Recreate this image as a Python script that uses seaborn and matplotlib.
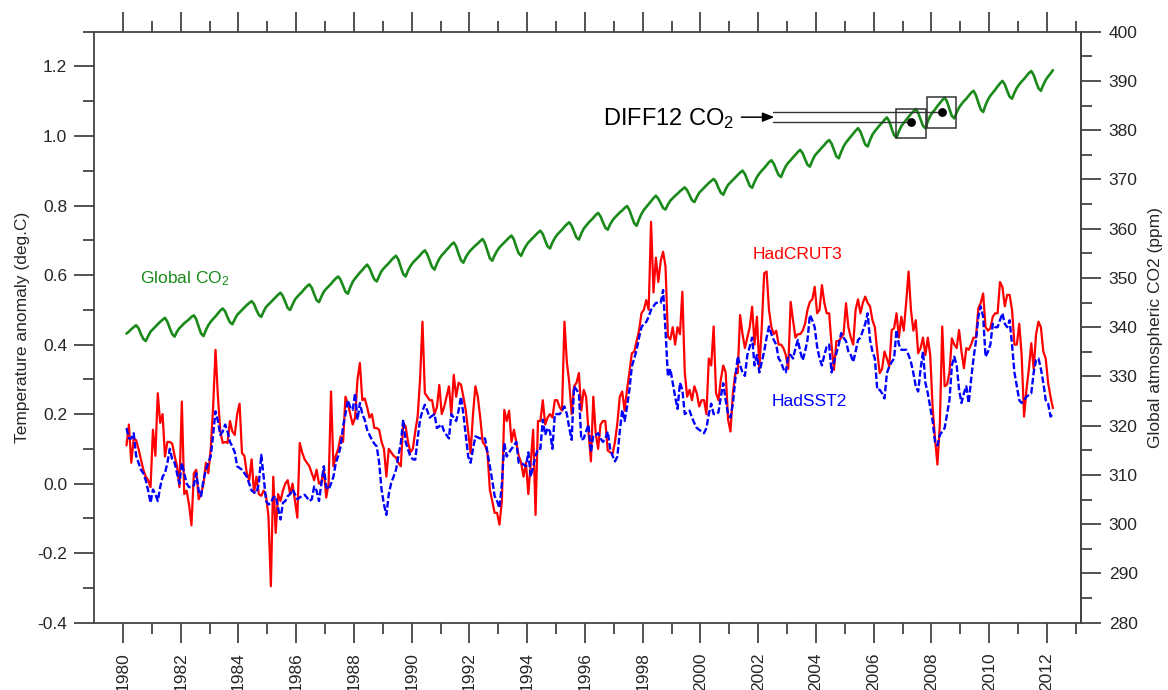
import numpy as np
import pandas as pd
import matplotlib
matplotlib.use("Agg")
import matplotlib.pyplot as plt
import seaborn as sns
from matplotlib.patches import Rectangle
from matplotlib.ticker import FixedLocator

# ---------------- data (monthly, Jan 1980 .. Feb 2012) ----------------
first_year = 1980

hadcrut3 = [
    0.11, 0.17, 0.06, 0.13, 0.125, 0.10, 0.07, 0.04, 0.02, 0.01, -0.01, 0.155,      # 1980
    0.08, 0.26, 0.175, 0.20, 0.078, 0.12, 0.12, 0.115, 0.08, 0.05, -0.01, 0.236,    # 1981
    -0.03, -0.02, -0.06, -0.12, 0.03, 0.04, -0.045, -0.03, 0.00, 0.06, 0.03, 0.10,  # 1982
    0.22, 0.385, 0.25, 0.15, 0.117, 0.12, 0.117, 0.18, 0.15, 0.14, 0.20, 0.23,      # 1983
    0.088, 0.08, 0.03, 0.01, 0.07, -0.027, 0.02, -0.03, -0.035, -0.02, -0.035, -0.094,  # 1984
    -0.295, 0.02, -0.142, -0.03, -0.05, -0.02, 0.00, 0.01, -0.03, 0.00, -0.05, -0.098,  # 1985
    0.117, 0.09, 0.07, 0.06, 0.05, 0.03, 0.01, 0.04, 0.00, 0.005, 0.04, -0.04,      # 1986
    0.00, 0.265, 0.05, 0.08, 0.10, 0.136, 0.12, 0.25, 0.23, 0.20, 0.17, 0.19,       # 1987
    0.30, 0.347, 0.24, 0.245, 0.22, 0.19, 0.20, 0.16, 0.16, 0.155, 0.12, 0.10,      # 1988
    0.02, 0.10, 0.09, 0.08, 0.075, 0.06, 0.05, 0.174, 0.165, 0.12, 0.09, 0.10,      # 1989
    0.15, 0.193, 0.30, 0.466, 0.26, 0.25, 0.24, 0.24, 0.20, 0.22, 0.284, 0.20,      # 1990
    0.22, 0.25, 0.28, 0.20, 0.313, 0.25, 0.29, 0.285, 0.25, 0.21, 0.15, 0.088,      # 1991
    0.20, 0.28, 0.25, 0.19, 0.12, 0.11, 0.09, -0.017, -0.05, -0.084, -0.084, -0.118,  # 1992
    -0.05, 0.212, 0.18, 0.21, 0.12, 0.155, 0.12, 0.08, 0.06, 0.02, 0.06, -0.03,     # 1993
    0.06, 0.155, -0.09, 0.18, 0.18, 0.24, 0.17, 0.19, 0.20, 0.19, 0.24, 0.24,       # 1994
    0.22, 0.21, 0.466, 0.35, 0.29, 0.20, 0.28, 0.29, 0.318, 0.21, 0.27, 0.25,       # 1995
    0.15, 0.064, 0.25, 0.145, 0.10, 0.17, 0.18, 0.18, 0.095, 0.09, 0.085, 0.12,     # 1996
    0.175, 0.25, 0.265, 0.21, 0.27, 0.32, 0.375, 0.38, 0.41, 0.44, 0.49, 0.50,      # 1997
    0.528, 0.50, 0.753, 0.55, 0.65, 0.58, 0.64, 0.667, 0.625, 0.423, 0.415, 0.45,   # 1998
    0.40, 0.45, 0.43, 0.552, 0.32, 0.25, 0.27, 0.24, 0.28, 0.26, 0.222, 0.24,       # 1999
    0.24, 0.20, 0.36, 0.34, 0.452, 0.26, 0.24, 0.30, 0.34, 0.32, 0.184, 0.15,       # 2000
    0.26, 0.318, 0.318, 0.485, 0.43, 0.39, 0.42, 0.45, 0.509, 0.40, 0.48, 0.33,     # 2001
    0.45, 0.605, 0.61, 0.50, 0.45, 0.43, 0.44, 0.40, 0.40, 0.39, 0.37, 0.33,        # 2002
    0.523, 0.47, 0.42, 0.43, 0.43, 0.44, 0.46, 0.50, 0.523, 0.53, 0.566, 0.49,      # 2003
    0.50, 0.571, 0.52, 0.49, 0.49, 0.40, 0.327, 0.41, 0.41, 0.42, 0.43, 0.519,      # 2004
    0.45, 0.42, 0.40, 0.50, 0.53, 0.49, 0.52, 0.538, 0.52, 0.51, 0.47, 0.45,        # 2005
    0.38, 0.318, 0.33, 0.38, 0.36, 0.337, 0.442, 0.447, 0.49, 0.42, 0.48, 0.44,     # 2006
    0.52, 0.61, 0.50, 0.44, 0.47, 0.375, 0.39, 0.42, 0.37, 0.42, 0.37, 0.22,        # 2007
    0.13, 0.055, 0.17, 0.452, 0.28, 0.285, 0.32, 0.418, 0.40, 0.39, 0.442, 0.38,    # 2008
    0.332, 0.39, 0.385, 0.40, 0.42, 0.42, 0.504, 0.52, 0.547, 0.45, 0.44, 0.447,    # 2009
    0.48, 0.49, 0.49, 0.58, 0.566, 0.51, 0.543, 0.543, 0.50, 0.40, 0.40, 0.46,      # 2010
    0.37, 0.193, 0.27, 0.33, 0.404, 0.33, 0.43, 0.466, 0.45, 0.38, 0.36, 0.29,      # 2011
    0.25, 0.217,                                                                    # 2012
]

hadsst2 = [
    0.16, 0.13, 0.13, 0.145, 0.08, 0.06, 0.04, 0.03, 0.01, -0.02, -0.055, -0.017,   # 1980
    -0.03, -0.05, -0.01, 0.02, 0.03, 0.06, 0.10, 0.07, 0.06, 0.03, 0.00, 0.06,      # 1981
    0.03, 0.00, -0.01, -0.01, -0.005, 0.03, -0.02, -0.036, 0.01, 0.04, 0.06, 0.078,  # 1982
    0.14, 0.208, 0.18, 0.14, 0.15, 0.17, 0.15, 0.12, 0.107, 0.09, 0.05, 0.045,      # 1983
    0.04, 0.03, 0.02, 0.00, -0.02, -0.025, -0.027, 0.00, 0.083, 0.02, -0.05, -0.06,  # 1984
    -0.055, -0.04, -0.036, -0.07, -0.103, -0.055, -0.05, -0.036, -0.03, -0.017, -0.03, -0.045,  # 1985
    -0.04, -0.035, -0.032, -0.04, -0.05, -0.045, -0.008, -0.02, -0.05, 0.00, 0.05, -0.01,  # 1986
    -0.017, 0.00, 0.02, 0.06, 0.08, 0.107, 0.165, 0.20, 0.24, 0.22, 0.212, 0.26,    # 1987
    0.184, 0.232, 0.20, 0.184, 0.155, 0.14, 0.126, 0.115, 0.107, 0.06, -0.017, -0.06,  # 1988
    -0.09, -0.03, 0.002, 0.02, 0.04, 0.08, 0.117, 0.184, 0.12, 0.098, 0.078, 0.07,  # 1989
    0.069, 0.13, 0.184, 0.21, 0.227, 0.21, 0.19, 0.195, 0.20, 0.16, 0.165, 0.17,    # 1990
    0.15, 0.14, 0.13, 0.20, 0.19, 0.18, 0.21, 0.25, 0.20, 0.14, 0.078, 0.06,        # 1991
    0.10, 0.136, 0.133, 0.13, 0.13, 0.13, 0.09, 0.05, 0.01, -0.036, -0.05, -0.07,   # 1992
    0.00, 0.117, 0.078, 0.09, 0.10, 0.11, 0.12, 0.06, 0.06, 0.055, 0.05, 0.09,      # 1993
    0.02, 0.05, 0.08, 0.10, 0.10, 0.184, 0.14, 0.16, 0.15, 0.10, 0.20, 0.20,        # 1994
    0.20, 0.21, 0.222, 0.20, 0.16, 0.126, 0.28, 0.27, 0.26, 0.126, 0.13, 0.15,      # 1995
    0.17, 0.09, 0.14, 0.14, 0.145, 0.13, 0.12, 0.13, 0.15, 0.10, 0.08, 0.064,       # 1996
    0.078, 0.15, 0.212, 0.18, 0.22, 0.27, 0.337, 0.36, 0.385, 0.42, 0.45, 0.46,     # 1997
    0.465, 0.48, 0.50, 0.51, 0.52, 0.52, 0.52, 0.557, 0.44, 0.308, 0.33, 0.29,      # 1998
    0.25, 0.215, 0.29, 0.27, 0.20, 0.205, 0.21, 0.19, 0.174, 0.16, 0.155, 0.15,     # 1999
    0.145, 0.16, 0.20, 0.23, 0.20, 0.20, 0.205, 0.25, 0.289, 0.24, 0.20, 0.19,      # 2000
    0.23, 0.30, 0.366, 0.34, 0.32, 0.31, 0.37, 0.394, 0.42, 0.34, 0.37, 0.32,       # 2001
    0.35, 0.38, 0.42, 0.452, 0.43, 0.413, 0.40, 0.36, 0.35, 0.33, 0.32, 0.37,       # 2002
    0.37, 0.36, 0.39, 0.413, 0.38, 0.355, 0.38, 0.413, 0.485, 0.47, 0.45, 0.394,    # 2003
    0.36, 0.34, 0.37, 0.394, 0.40, 0.32, 0.35, 0.375, 0.40, 0.433, 0.42, 0.41,      # 2004
    0.38, 0.37, 0.35, 0.38, 0.413, 0.42, 0.44, 0.46, 0.49, 0.413, 0.38, 0.36,       # 2005
    0.27, 0.27, 0.26, 0.245, 0.318, 0.337, 0.35, 0.36, 0.442, 0.40, 0.385, 0.385,   # 2006
    0.385, 0.37, 0.35, 0.318, 0.28, 0.265, 0.33, 0.38, 0.29, 0.26, 0.22, 0.18,      # 2007
    0.12, 0.11, 0.14, 0.15, 0.16, 0.20, 0.24, 0.34, 0.365, 0.34, 0.27, 0.232,       # 2008
    0.26, 0.28, 0.232, 0.30, 0.36, 0.41, 0.48, 0.51, 0.48, 0.365, 0.38, 0.40,       # 2009
    0.46, 0.45, 0.45, 0.47, 0.49, 0.46, 0.45, 0.47, 0.40, 0.32, 0.28, 0.24,         # 2010
    0.232, 0.24, 0.25, 0.255, 0.26, 0.32, 0.356, 0.36, 0.33, 0.29, 0.24, 0.23,      # 2011
    0.193, 0.20,                                                                    # 2012
]

co2_ppm = [
    338.7, 339.1, 339.6, 340.0, 340.4, 339.8, 338.6, 337.6, 337.2, 338.2, 339.1, 339.6,  # 1980
    340.1, 340.6, 341.1, 341.5, 341.9, 341.1, 339.8, 338.6, 338.1, 339.1, 339.8, 340.3,  # 1981
    340.8, 341.2, 341.6, 342.1, 342.4, 341.6, 340.1, 338.7, 338.2, 339.4, 340.4, 341.1,  # 1982
    341.7, 342.2, 342.8, 343.4, 343.8, 343.2, 342.0, 341.0, 340.6, 341.6, 342.5, 343.0,  # 1983
    343.5, 344.0, 344.5, 344.9, 345.3, 344.7, 343.5, 342.5, 342.1, 343.2, 344.1, 344.6,  # 1984
    345.1, 345.6, 346.1, 346.6, 347.0, 346.3, 345.1, 343.9, 343.5, 344.6, 345.6, 346.2,  # 1985
    346.7, 347.2, 347.8, 348.3, 348.7, 348.0, 346.7, 345.5, 345.1, 346.2, 347.2, 347.8,  # 1986
    348.3, 348.8, 349.4, 349.9, 350.3, 349.6, 348.4, 347.2, 346.8, 348.1, 349.2, 349.9,  # 1987
    350.5, 351.1, 351.6, 352.2, 352.7, 352.0, 350.8, 349.7, 349.3, 350.4, 351.4, 352.0,  # 1988
    352.5, 353.0, 353.6, 354.1, 354.5, 353.7, 352.2, 350.8, 350.3, 351.5, 352.4, 353.1,  # 1989
    353.6, 354.1, 354.6, 355.2, 355.6, 354.8, 353.5, 352.2, 351.7, 352.9, 353.9, 354.6,  # 1990
    355.1, 355.7, 356.2, 356.8, 357.2, 356.4, 354.9, 353.6, 353.1, 354.2, 355.0, 355.6,  # 1991
    356.1, 356.6, 357.0, 357.5, 357.9, 357.0, 355.5, 354.0, 353.5, 354.6, 355.5, 356.2,  # 1992
    356.7, 357.2, 357.7, 358.2, 358.6, 357.8, 356.3, 355.0, 354.5, 355.6, 356.5, 357.2,  # 1993
    357.7, 358.2, 358.7, 359.2, 359.6, 358.9, 357.6, 356.4, 356.0, 357.2, 358.1, 358.8,  # 1994
    359.3, 359.8, 360.4, 360.9, 361.3, 360.6, 359.4, 358.2, 357.8, 359.0, 360.0, 360.6,  # 1995
    361.2, 361.7, 362.2, 362.8, 363.2, 362.5, 361.3, 360.2, 359.8, 360.9, 361.7, 362.3,  # 1996
    362.8, 363.3, 363.7, 364.2, 364.6, 363.8, 362.4, 361.1, 360.6, 361.9, 363.0, 363.8,  # 1997
    364.4, 365.0, 365.6, 366.2, 366.7, 366.1, 365.2, 364.2, 363.9, 364.9, 365.7, 366.2,  # 1998
    366.7, 367.1, 367.6, 368.0, 368.4, 367.8, 366.8, 365.8, 365.4, 366.4, 367.3, 367.8,  # 1999
    368.3, 368.8, 369.3, 369.7, 370.1, 369.5, 368.3, 367.3, 366.9, 368.0, 368.9, 369.4,  # 2000
    369.9, 370.4, 370.9, 371.4, 371.8, 371.1, 369.9, 368.7, 368.3, 369.5, 370.5, 371.2,  # 2001
    371.8, 372.3, 372.9, 373.5, 373.9, 373.2, 372.0, 370.9, 370.5, 371.7, 372.7, 373.4,  # 2002
    373.9, 374.5, 375.0, 375.6, 376.0, 375.3, 374.1, 373.0, 372.6, 373.8, 374.8, 375.4,  # 2003
    375.9, 376.5, 377.0, 377.6, 378.0, 377.3, 376.0, 374.7, 374.3, 375.6, 376.7, 377.5,  # 2004
    378.1, 378.7, 379.3, 379.9, 380.4, 379.7, 378.4, 377.1, 376.7, 378.0, 379.1, 379.8,  # 2005
    380.4, 381.0, 381.5, 382.1, 382.6, 381.8, 380.3, 379.0, 378.5, 379.8, 380.8, 381.5,  # 2006
    382.1, 382.7, 383.3, 383.8, 384.3, 383.5, 382.2, 380.9, 380.4, 381.8, 382.9, 383.6,  # 2007
    384.2, 384.9, 385.5, 386.1, 386.6, 385.8, 384.3, 382.9, 382.4, 383.6, 384.6, 385.3,  # 2008
    385.9, 386.4, 387.0, 387.6, 388.0, 387.1, 385.6, 384.2, 383.7, 385.1, 386.2, 387.0,  # 2009
    387.6, 388.2, 388.9, 389.5, 390.0, 389.3, 388.0, 386.8, 386.4, 387.6, 388.6, 389.3,  # 2010
    389.9, 390.4, 391.0, 391.6, 392.0, 391.2, 389.8, 388.5, 388.0, 389.2, 390.2, 390.9,  # 2011
    391.5, 392.2,                                                                        # 2012
]

# axis ticks
year_ticks = list(range(1980, 2013, 2))
year_minor = list(range(1981, 2014, 2))
temp_ticks = [-0.4, -0.2, 0.0, 0.2, 0.4, 0.6, 0.8, 1.0, 1.2]
temp_minor = [-0.3, -0.1, 0.1, 0.3, 0.5, 0.7, 0.9, 1.1, 1.3]
co2_ticks = list(range(280, 401, 10))
co2_minor = list(range(285, 400, 10))

# DIFF12 12-month windows (x0, x1, y0, y1) and their mean points
diff_boxes = [(2006.79, 2007.80, 378.5, 384.3), (2007.83, 2008.84, 380.5, 386.8)]
diff_dot_x = [2007.30, 2008.36]
diff_dot_y = [381.6, 383.6]
diff_line_start = 2002.51
arrow_x = (2001.42, 2002.56)
arrow_y = 382.65

# ---------------- styling ----------------
sns.set_style("white")
plt.rcParams['font.family'] = ['Liberation Sans', 'DejaVu Sans']
plt.rcParams['mathtext.fontset'] = 'custom'
plt.rcParams['mathtext.rm'] = 'Liberation Sans'
plt.rcParams['mathtext.it'] = 'Liberation Sans:italic'
plt.rcParams['mathtext.default'] = 'regular'
plt.rcParams['axes.unicode_minus'] = False

RED = '#ff0000'
BLUE = '#0000ff'
GREEN = '#1a8a1a'
FRAME = '#444444'
FS = 12.5

n = len(hadcrut3)
time = first_year + (np.arange(n) + 1.5) / 12.0
df = pd.DataFrame({'time': time, 'HadCRUT3': hadcrut3, 'HadSST2': hadsst2, 'CO2': co2_ppm})

fig = plt.figure(figsize=(11.68, 6.9), dpi=100)
ax = fig.add_axes([94 / 1168, 67.3 / 690, 986.7 / 1168, 591 / 690])
ax2 = ax.twinx()

sns.lineplot(data=df, x='time', y='HadCRUT3', ax=ax, color=RED, lw=1.6)
sns.lineplot(data=df, x='time', y='HadSST2', ax=ax, color=BLUE, lw=1.7,
             linestyle=(0, (2.8, 1.1)))
sns.lineplot(data=df, x='time', y='CO2', ax=ax2, color=GREEN, lw=1.9)

# DIFF12 annotation
for (x0, x1, y0, y1) in diff_boxes:
    ax2.add_patch(Rectangle((x0, y0), x1 - x0, y1 - y0, fill=False,
                            ec='#333333', lw=1.1, zorder=4))
for dx, dy in zip(diff_dot_x, diff_dot_y):
    ax2.plot([diff_line_start, dx], [dy, dy], color='#333333', lw=1.0, zorder=4)
sns.scatterplot(x=diff_dot_x, y=diff_dot_y, ax=ax2, color='black', s=34,
                edgecolor='black', zorder=5)
ax2.annotate('', xy=(arrow_x[1], arrow_y), xytext=(arrow_x[0], arrow_y),
             arrowprops=dict(arrowstyle='-|>,head_length=0.7,head_width=0.28',
                             color='black', lw=1.1, shrinkA=0, shrinkB=0))
ax2.text(2001.19, 381.0, 'DIFF12 CO$_2$', color='black', fontsize=17,
         ha='right', va='baseline')

# series labels
ax.text(1980.61, 0.577, 'Global CO$_2$', color=GREEN, fontsize=FS, ha='left', va='baseline')
ax.text(2001.82, 0.646, 'HadCRUT3', color=RED, fontsize=FS, ha='left', va='baseline')
ax.text(2002.48, 0.222, 'HadSST2', color=BLUE, fontsize=FS, ha='left', va='baseline')

# axes limits / ticks
ax.set_xlim(1979.0, 2013.17)
ax.set_ylim(-0.4, 1.3)
ax2.set_ylim(280, 400)

ax.xaxis.set_major_locator(FixedLocator(year_ticks))
ax.xaxis.set_minor_locator(FixedLocator(year_minor))
ax.set_xticklabels([str(y) for y in year_ticks], rotation=90)
ax.yaxis.set_major_locator(FixedLocator(temp_ticks))
ax.yaxis.set_minor_locator(FixedLocator(temp_minor))
ax.set_yticklabels(['%.1f' % v for v in temp_ticks])
ax2.yaxis.set_major_locator(FixedLocator(co2_ticks))
ax2.yaxis.set_minor_locator(FixedLocator(co2_minor))
ax2.set_yticklabels([str(v) for v in co2_ticks])

ax.tick_params(axis='x', which='both', bottom=True, top=True, direction='out',
               color=FRAME, width=1.3)
ax.tick_params(axis='x', which='major', length=14.4, pad=7, labelsize=FS)
ax.tick_params(axis='x', which='minor', length=7.8)
ax.tick_params(axis='y', which='both', left=True, right=False, direction='out',
               color=FRAME, width=1.3)
ax.tick_params(axis='y', which='major', length=14.4, pad=5, labelsize=FS)
ax.tick_params(axis='y', which='minor', length=7.8)
ax2.tick_params(axis='y', which='both', right=True, left=False, direction='out',
                color=FRAME, width=1.3)
ax2.tick_params(axis='y', which='major', length=14.4, pad=5.8, labelsize=FS)
ax2.tick_params(axis='y', which='minor', length=7.8)

for a in (ax, ax2):
    for s in a.spines.values():
        s.set_color(FRAME)
        s.set_linewidth(1.3)
for s in ('left', 'top', 'bottom'):
    ax2.spines[s].set_visible(False)

ax.set_xlabel('')
ax.set_ylabel('Temperature anomaly (deg.C)', fontsize=FS)
ax.yaxis.set_label_coords(-0.0649, 0.5)
ax2.set_ylabel('Global atmospheric CO2 (ppm)', fontsize=FS)
ax2.yaxis.set_label_coords(1.0682, 0.5)

fig.savefig('out.png', dpi=100, facecolor='white')
